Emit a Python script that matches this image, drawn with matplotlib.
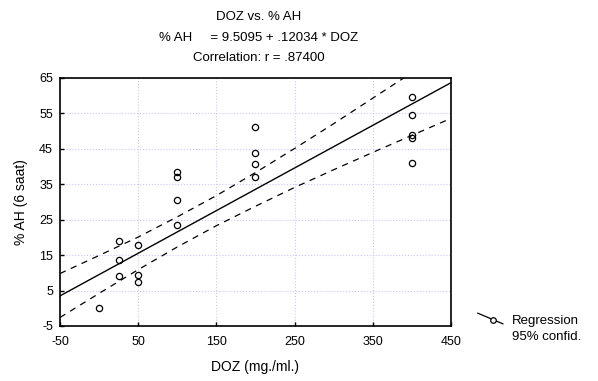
import numpy as np
import matplotlib
matplotlib.use('Agg')
import matplotlib.pyplot as plt

plt.rcParams['font.family'] = ['Liberation Sans', 'DejaVu Sans']
plt.rcParams['axes.unicode_minus'] = False

# data
doz = [0, 25, 25, 25, 50, 50, 50, 100, 100, 100, 100,
       200, 200, 200, 200, 400, 400, 400, 400, 400]
ah = [0, 19, 13.5, 9, 18, 9.5, 7.5, 38.5, 37, 30.5, 23.6,
      51.2, 43.9, 40.7, 37, 59.5, 54.5, 49, 48, 41]
a0 = 9.5095
b1 = 0.12034

# 95% confidence band
band_x = [-50, 0, 50, 100, 150, 200, 250, 300, 350, 400, 450]
band_hi = [9.8, 14.9, 20.1, 25.8, 31.8, 38.3, 45.1, 52.1, 59.3, 66.5, 73.7]
band_lo = [-2.6, 4.2, 10.9, 17.3, 23.3, 28.8, 34.1, 39.1, 44.0, 48.8, 53.6]

xticks = [-50, 50, 150, 250, 350, 450]
yticks = [-5, 5, 15, 25, 35, 45, 55, 65]

xs = np.array([-50, 450])
fit = a0 + b1 * xs

fig = plt.figure(figsize=(5.98, 3.81), dpi=100)
ax = fig.add_axes([0.1003, 0.1444, 0.6538, 0.6509])

ax.plot(xs, fit, color='black', lw=1.0)
ax.plot(band_x, band_hi, color='black', lw=0.9, dashes=(5, 4.5))
ax.plot(band_x, band_lo, color='black', lw=0.9, dashes=(5, 4.5))
ax.plot(doz, ah, 'o', mfc='none', mec='black', ms=4.5, mew=0.9)

ax.set_xlim(-50, 450)
ax.set_ylim(-5, 65)
ax.set_xticks(xticks)
ax.set_yticks(yticks)
ax.grid(True, color='#c8c8ff', ls=':', lw=0.8)
ax.set_axisbelow(True)
ax.tick_params(direction='in', labelsize=9, length=3, width=1)
ax.tick_params(axis='x', pad=7)
ax.tick_params(axis='y', pad=5)
for sp in ax.spines.values():
    sp.set_linewidth(1.2)

ax.set_xlabel('DOZ (mg./ml.)', fontsize=10, labelpad=9)
ax.set_ylabel('% AH (6 saat)', fontsize=10, labelpad=8)
fig.text(0.433, 0.955, 'DOZ vs. % AH', ha='center', va='center', fontsize=9.5)
fig.text(0.433, 0.900, '% AH     = 9.5095 + .12034 * DOZ', ha='center', va='center', fontsize=9.5)
fig.text(0.433, 0.848, 'Correlation: r = .87400', ha='center', va='center', fontsize=9.5)

# legend drawn by hand: slanted line with a circle
fig.add_artist(plt.Line2D([0.799, 0.841], [0.178, 0.150], color='black', lw=0.9))
fig.add_artist(plt.Line2D([0.825], [0.160], marker='o', mfc='white', mec='black', ms=4, mew=0.9))
fig.text(0.856, 0.158, 'Regression', fontsize=9.5, va='center')
fig.text(0.856, 0.115, '95% confid.', fontsize=9.5, va='center')

fig.savefig('out.png', dpi=100)
